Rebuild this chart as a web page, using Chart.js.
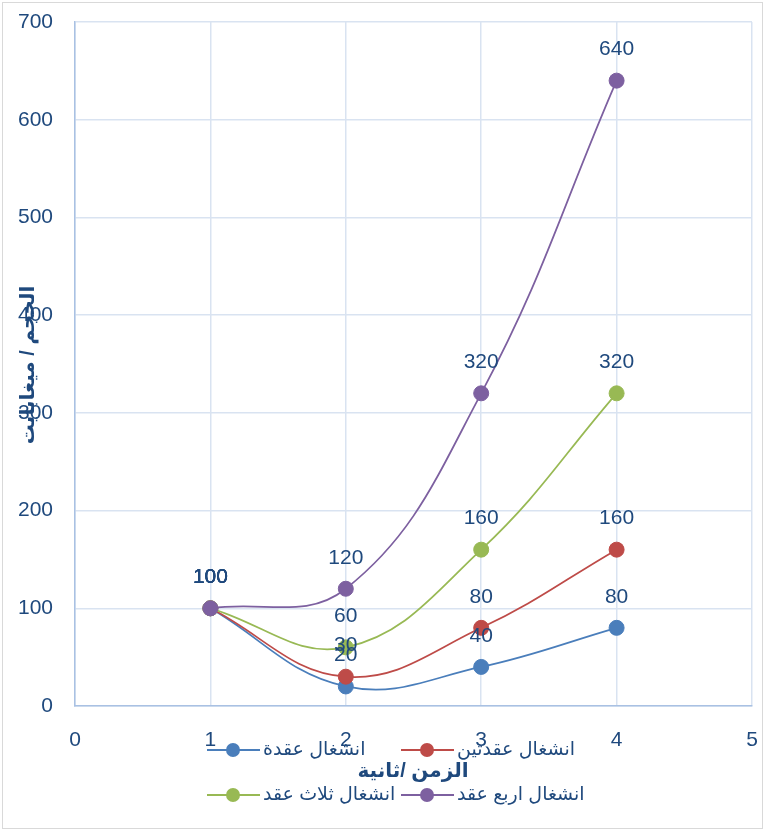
<!DOCTYPE html>
<html>
<head>
<meta charset="utf-8">
<script src="https://cdn.jsdelivr.net/npm/chart.js@4"></script>
<style>
  html, body { margin: 0; padding: 0; background: #ffffff; }
  #wrap { width: 765px; height: 833px; }
</style>
</head>
<body>
<div id="wrap"><canvas id="chart" width="765" height="833"></canvas></div>
<script>
// x values (time, seconds)
const times = [1, 2, 3, 4];

// series values (size, MB)
const oneNode = [100, 20, 40, 80];
const twoNodes = [100, 30, 80, 160];
const threeNodes = [100, 60, 160, 320];
const fourNodes = [100, 120, 320, 640];

const seriesNames = ['انشغال عقدة', 'انشغال عقدتين', 'انشغال ثلاث عقد', 'انشغال اربع عقد'];
const seriesColors = ['#4a7ebb', '#be4b48', '#98b954', '#7d60a0'];

const xTitle = 'الزمن /ثانية';
const yTitle = 'الحجم / ميغابايت';

const textColor = '#1f497d';
const fontFamily = "'Liberation Sans', 'DejaVu Sans', sans-serif";

function toPoints(values) {
    return times.map((t, i) => ({ x: t, y: values[i] }));
}

const allSeries = [oneNode, twoNodes, threeNodes, fourNodes];

// Fix axis box sizes and drop the automatic label overflow padding
function fixScale(size, horizontal) {
    return function (scale) {
        if (horizontal) scale.height = size; else scale.width = size;
        scale.paddingLeft = 0;
        scale.paddingRight = 0;
        scale.paddingTop = 0;
        scale.paddingBottom = 0;
    };
}

// Extra drawing: border, value labels, axis titles, legend
const decorations = {
    id: 'decorations',
    beforeDraw(chart) {
        const ctx = chart.ctx;
        ctx.save();
        ctx.strokeStyle = '#d9d9d9';
        ctx.lineWidth = 1;
        ctx.strokeRect(2.5, 2.5, 760, 826);
        ctx.restore();
    },
    afterDatasetsDraw(chart) {
        const ctx = chart.ctx;
        ctx.save();
        ctx.fillStyle = textColor;
        ctx.font = '21px ' + fontFamily;
        ctx.textAlign = 'center';
        ctx.textBaseline = 'middle';
        chart.data.datasets.forEach((ds, i) => {
            const meta = chart.getDatasetMeta(i);
            meta.data.forEach((pt, j) => {
                ctx.fillText(String(ds.data[j].y), pt.x, pt.y - 31);
            });
        });
        ctx.restore();
    },
    afterDraw(chart) {
        const ctx = chart.ctx;
        ctx.save();
        ctx.fillStyle = textColor;

        // y axis title (overlaps the ticks like the original)
        ctx.font = 'bold 20px ' + fontFamily;
        ctx.textAlign = 'center';
        ctx.textBaseline = 'middle';
        ctx.translate(28, 365);
        ctx.rotate(-Math.PI / 2);
        ctx.fillText(yTitle, 0, 0);
        ctx.setTransform(1, 0, 0, 1, 0, 0);

        // x axis title
        ctx.fillText(xTitle, 413, 771);

        // legend, two rows of two
        const slots = [
            { x: 207, y: 750 },
            { x: 401, y: 750 },
            { x: 207, y: 795 },
            { x: 401, y: 795 }
        ];
        ctx.font = '19px ' + fontFamily;
        ctx.textAlign = 'left';
        slots.forEach((s, i) => {
            const c = seriesColors[i];
            ctx.strokeStyle = c;
            ctx.lineWidth = 2;
            ctx.beginPath();
            ctx.moveTo(s.x, s.y);
            ctx.lineTo(s.x + 53, s.y);
            ctx.stroke();
            ctx.fillStyle = c;
            ctx.beginPath();
            ctx.arc(s.x + 26, s.y, 7, 0, Math.PI * 2);
            ctx.fill();
            ctx.fillStyle = textColor;
            ctx.fillText(seriesNames[i], s.x + 56, s.y);
        });
        ctx.restore();
    }
};

new Chart(document.getElementById('chart'), {
    type: 'scatter',
    data: {
        datasets: allSeries.map((vals, i) => ({
            label: seriesNames[i],
            data: toPoints(vals),
            showLine: true,
            tension: 0.4,
            borderColor: seriesColors[i],
            backgroundColor: seriesColors[i],
            borderWidth: 1.75,
            pointRadius: 7.5,
            pointBorderWidth: 1,
            pointHoverRadius: 7.5,
            order: 4 - i
        }))
    },
    options: {
        responsive: false,
        animation: false,
        devicePixelRatio: 1,
        layout: {
            padding: { left: 0, right: 13, top: 22, bottom: 0 }
        },
        plugins: {
            legend: { display: false },
            tooltip: { enabled: false }
        },
        scales: {
            x: {
                type: 'linear',
                min: 0,
                max: 5,
                afterFit: fixScale(127, true),
                grid: { color: '#d9e3f1', drawTicks: false, lineWidth: 1.5 },
                border: { color: '#a9c1e3', width: 1.5 },
                ticks: {
                    stepSize: 1,
                    padding: 22,
                    color: textColor,
                    font: { family: fontFamily, size: 21 }
                }
            },
            y: {
                type: 'linear',
                min: 0,
                max: 700,
                afterFit: fixScale(75, false),
                grid: { color: '#d9e3f1', drawTicks: false, lineWidth: 1.5 },
                border: { color: '#a9c1e3', width: 1.5 },
                ticks: {
                    stepSize: 100,
                    padding: 22,
                    color: textColor,
                    font: { family: fontFamily, size: 21 }
                }
            }
        }
    },
    plugins: [decorations]
});
</script>
</body>
</html>
